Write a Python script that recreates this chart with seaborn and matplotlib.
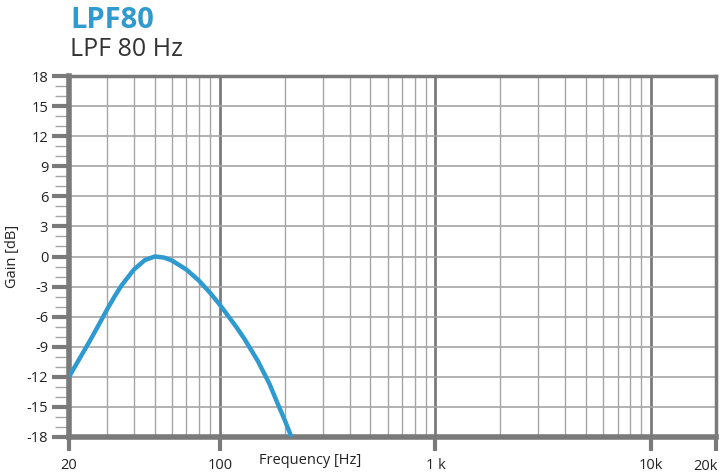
import numpy as np
import pandas as pd
import matplotlib
matplotlib.use("Agg")
import matplotlib.pyplot as plt
import seaborn as sns
from matplotlib.ticker import FixedLocator, NullFormatter

# Data
freq_hz = [20, 22.5, 25, 27.5, 30, 32.5, 35, 40, 45, 50, 55, 60, 70, 80, 90, 100, 110, 120, 130, 150, 170, 185, 200, 215]
gain_db = [-12.0, -10.1, -8.4, -6.8, -5.3, -4.0, -2.9, -1.3, -0.35, 0.0, -0.1, -0.4, -1.3, -2.4, -3.6, -4.8, -6.0, -7.1, -8.2, -10.4, -12.7, -14.6, -16.3, -18.0]

x_tick_vals = [20, 100, 1000, 10000, 20000]
x_tick_labels = ["20", "100", "1 k", "10k", "20k"]
y_tick_vals = list(range(-18, 19, 3))

title = "LPF80"
subtitle = "LPF 80 Hz"
x_label = "Frequency [Hz]"
y_label = "Gain [dB]"

df = pd.DataFrame({"freq": freq_hz, "gain": gain_db})

sns.set_theme(style="white")
plt.rcParams["font.family"] = ["Open Sans", "DejaVu Sans"]

W, H = 727, 473
fig = plt.figure(figsize=(W / 100, H / 100), dpi=100)
ax = fig.add_axes([69 / W, 1 - 437 / H, (716 - 69) / W, (437 - 76) / H])

grid_minor = "#a6a6a6"
grid_major = "#7a7a7a"
text_col = "#222222"

ax.set_xscale("log")
ax.set_xlim(20, 20000)
ax.set_ylim(-18, 18)

# vertical grid lines
minor_x = [v for d in (10, 100, 1000) for v in (np.arange(2, 10) * d) if 20 < v < 20000 and v not in (100, 1000, 10000)]
for v in minor_x:
    ax.axvline(v, color=grid_minor, lw=1.0, zorder=1)
for v in (100, 1000, 10000):
    ax.axvline(v, color=grid_major, lw=2.0, zorder=1)
for v in y_tick_vals[1:-1]:
    ax.axhline(v, color=grid_minor, lw=1.2, zorder=1)

sns.lineplot(data=df, x="freq", y="gain", ax=ax, color="#2f9ad0", lw=3.2, zorder=3)
ax.lines[-1].set_solid_joinstyle("round")
ax.lines[-1].set_solid_capstyle("butt")

for s in ["left", "bottom"]:
    ax.spines[s].set_linewidth(4)
    ax.spines[s].set_color(grid_major)
for s in ["top", "right"]:
    ax.spines[s].set_linewidth(2.5)
    ax.spines[s].set_color(grid_major)

ax.xaxis.set_major_locator(FixedLocator(x_tick_vals))
ax.set_xticklabels(x_tick_labels[:-1] + [""])
ax.xaxis.set_minor_locator(FixedLocator([]))
ax.xaxis.set_minor_formatter(NullFormatter())
ax.tick_params(axis="x", which="major", direction="out", length=10, width=3, color=grid_major,
               labelsize=10.5, labelcolor=text_col, pad=5, bottom=True)
# last label is right-aligned at the plot edge
ax.annotate(x_tick_labels[-1], xy=(x_tick_vals[-1], 0), xycoords=("data", "axes fraction"),
            xytext=(1.5, -15.5), textcoords="offset points", ha="right", va="top",
            fontsize=10.5, color=text_col)

ax.yaxis.set_major_locator(FixedLocator(y_tick_vals))
ax.set_yticklabels([str(v) for v in y_tick_vals])
ax.yaxis.set_minor_locator(FixedLocator([v for v in range(-18, 19) if v % 3 != 0]))
ax.tick_params(axis="y", which="major", direction="out", length=12, width=3, color=grid_major,
               labelsize=10.5, labelcolor=text_col, pad=3, left=True)
ax.tick_params(axis="y", which="minor", direction="out", length=10, width=1, color=grid_minor, left=True)

ax.set_xlabel("")
ax.set_ylabel(y_label, fontsize=10.5, color=text_col)
ax.yaxis.set_label_coords((20 - 69) / (716 - 69), 0.5)
fig.text(310 / W, 1 - 460 / H, x_label, ha="center", va="center", fontsize=10.5, color=text_col)

fig.text(70 / W, 1 - 20 / H, title, ha="left", va="center", fontsize=21, fontweight="bold", color="#2f9ad0")
fig.text(70 / W, 1 - 50 / H, subtitle, ha="left", va="center", fontsize=18, color="#333333")

fig.savefig("out.png", dpi=100)
